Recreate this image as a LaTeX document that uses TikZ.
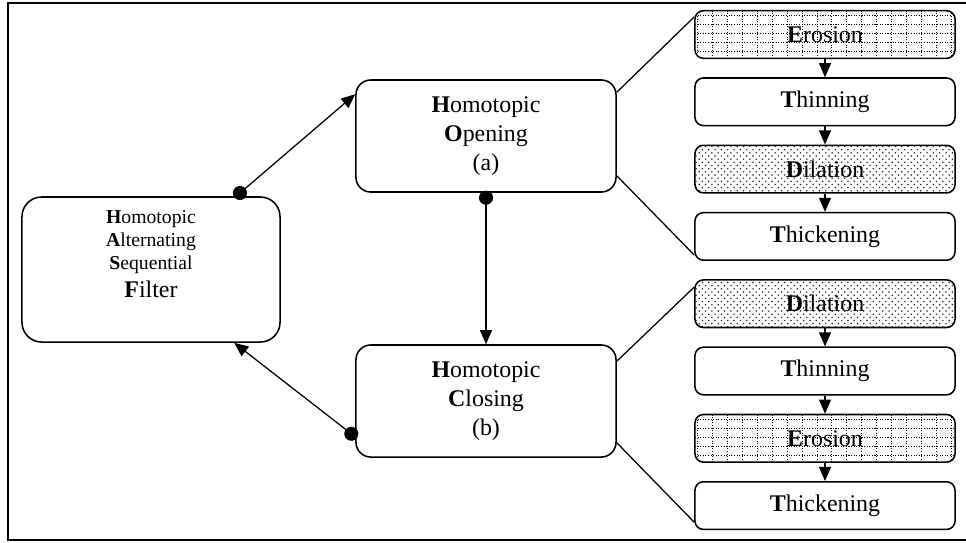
\documentclass[tikz,border=0pt]{standalone}
\usepackage{fontspec}
\setmainfont{Liberation Serif}
\usetikzlibrary{arrows.meta,calc,patterns}
\pgfdeclarepatternformonly{sanddots}{\pgfqpoint{-1pt}{-1pt}}{\pgfqpoint{5.5pt}{5.5pt}}{\pgfqpoint{4.5pt}{4.5pt}}{%
  \pgfpathcircle{\pgfqpoint{0pt}{0pt}}{0.6pt}%
  \pgfpathcircle{\pgfqpoint{2.25pt}{2.25pt}}{0.6pt}%
  \pgfusepath{fill}}
\tikzset{frame/.style={line width=1.8pt}}
\tikzset{box/.style={draw, line width=1.1pt, align=center, inner sep=0pt}}
\tikzset{bigbox/.style={box, rounded corners=10.5pt, minimum width=6.5cm, minimum height=2.8cm}}
\tikzset{filterbox/.style={box, rounded corners=14pt, minimum width=6.45cm, minimum height=3.625cm}}
\tikzset{stagebox/.style={box, rounded corners=6pt, minimum width=6.5cm, minimum height=1.19cm}}
\tikzset{gridline/.style={line width=0.75pt, dash pattern=on 0.75pt off 1.1pt}}
\tikzset{erobox/.style={stagebox, path picture={
  \foreach \gx in {0,...,17}
    \draw[gridline] ([xshift=\gx*10.6pt+2pt]path picture bounding box.north west) -- ++(0pt,-40pt);
  \foreach \gy in {0,...,4}
    \draw[gridline] ([yshift=-\gy*6.4pt-3.5pt]path picture bounding box.north west) -- ++(200pt,0pt);
}}}
\tikzset{dilbox/.style={stagebox, pattern=sanddots, pattern color=black!85}}
\tikzset{link/.style={line width=0.9pt}}
\tikzset{flow/.style={line width=0.9pt, -{Triangle[length=10pt, width=8.5pt]}}}
\tikzset{flowdot/.style={flow, {Circle[length=10pt]}-{Triangle[length=10pt, width=8.5pt]}, shorten <=-1.5pt}}

\begin{document}
\begin{tikzpicture}[x=0.025cm, y=-0.025cm, every node/.style={font=\fontsize{17}{20.5}\selectfont}]
\useasboundingbox (0,0) rectangle (966,542);
\draw[frame] (970,3) -| (8,540) -- (970,540);

% main filter and its two halves
\node[filterbox] (hasf) at (151,269.5) {};
\node[anchor=north, align=center, inner sep=0pt, font=\fontsize{14}{16.5}\selectfont] (hasftext) at (151,210)
  {\textbf{H}omotopic\\\textbf{A}lternating\\\textbf{S}equential\\[3pt]{\fontsize{17}{20}\selectfont\textbf{F}ilter}};
\node[bigbox] (hopen) at (486,136) {\textbf{H}omotopic\\\textbf{O}pening\\(a)};
\node[bigbox] (hclose) at (486,401) {\textbf{H}omotopic\\\textbf{C}losing\\(b)};

% stages on the right
\foreach \n/\sty/\first/\rest [count=\i] in {ero1/erobox/E/rosion, thin1/stagebox/T/hinning,
    dil1/dilbox/D/ilation, thick1/stagebox/T/hickening, dil2/dilbox/D/ilation,
    thin2/stagebox/T/hinning, ero2/erobox/E/rosion, thick2/stagebox/T/hickening}
  \node[\sty] (\n) at (825,{34.5+67.3*(\i-1)}) {\textbf{\first}\rest};
\foreach \a/\b in {ero1/thin1, thin1/dil1, dil1/thick1, dil2/thin2, thin2/ero2, ero2/thick2}
  \draw[flow] (\a) -- (\b);

% connectors
\coordinate (fa) at ($(hasf.north west)+(215,0)$);
\coordinate (oa) at ($(hopen.north west)+(0,15)$);
\coordinate (cb) at ($(hclose.south west)+(0,-21)$);
\coordinate (fb) at ($(hasf.south west)+(213,0)$);
\draw[flowdot] (fa) -- (oa);
\draw[flowdot] (hopen.south) -- (hclose.north);
\draw[flowdot] (cb) -- (fb);

\coordinate (o1) at ($(hopen.north east)+(0,13)$);
\coordinate (o2) at ($(hopen.south east)+(0,-17)$);
\coordinate (c1) at ($(hclose.north east)+(0,17)$);
\coordinate (c2) at ($(hclose.south east)+(0,-15)$);
\coordinate (e1) at ($(ero1.north west)+(0,7)$);
\coordinate (k1) at ($(thick1.south west)+(0,-6)$);
\coordinate (d2) at ($(dil2.north west)+(0,8)$);
\coordinate (k2) at ($(thick2.south west)+(0,-8)$);
\draw[link] (o1) -- (e1);
\draw[link] (o2) -- (k1);
\draw[link] (c1) -- (d2);
\draw[link] (c2) -- (k2);
\end{tikzpicture}
\end{document}
